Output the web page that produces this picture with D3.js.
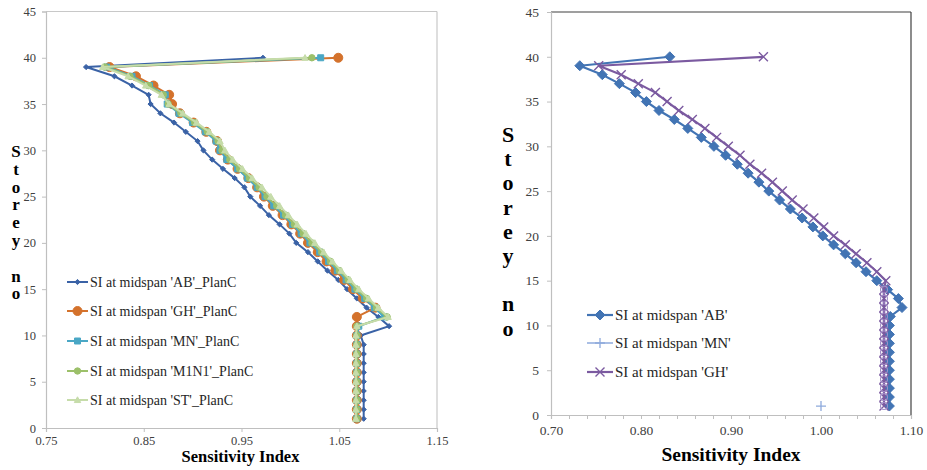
<!DOCTYPE html>
<html><head><meta charset="utf-8">
<script src="https://cdn.jsdelivr.net/npm/d3@7"></script>
<style>body{margin:0;background:#fff}svg{display:block}svg text{font-family:"Liberation Serif","DejaVu Serif","Times New Roman",serif}</style>
</head><body>
<svg id="c" width="927" height="470"></svg>
<script>
const storeys = d3.range(1, 41);
// values listed from storey 1 to storey 40
const leftAB = [1.075,1.075,1.075,1.075,1.075,1.075,1.075,1.075,1.075,1.072,1.101,1.090,1.078,1.068,1.058,1.049,1.038,1.028,1.018,1.006,0.999,0.989,0.978,0.969,0.959,0.953,0.943,0.931,0.920,0.911,0.905,0.893,0.881,0.867,0.857,0.855,0.838,0.820,0.791,0.972];
const leftGH = [1.068,1.068,1.068,1.068,1.068,1.068,1.068,1.068,1.068,1.068,1.068,1.068,1.087,1.074,1.064,1.055,1.046,1.037,1.028,1.018,1.010,1.001,0.992,0.982,0.973,0.966,0.957,0.946,0.936,0.928,0.925,0.914,0.901,0.887,0.879,0.876,0.860,0.842,0.815,1.049];
const leftMN = [1.068,1.068,1.068,1.068,1.068,1.068,1.068,1.068,1.068,1.068,1.070,1.096,1.086,1.076,1.066,1.057,1.048,1.039,1.030,1.020,1.011,1.002,0.993,0.983,0.974,0.966,0.956,0.946,0.935,0.928,0.924,0.913,0.900,0.886,0.874,0.872,0.856,0.838,0.812,1.031];
const leftM1N1 = [1.068,1.068,1.068,1.068,1.068,1.068,1.068,1.068,1.068,1.068,1.068,1.099,1.088,1.078,1.068,1.059,1.050,1.041,1.032,1.022,1.013,1.004,0.995,0.986,0.976,0.968,0.958,0.948,0.938,0.930,0.926,0.915,0.902,0.888,0.875,0.870,0.855,0.836,0.810,1.022];
const leftST = [1.067,1.067,1.067,1.067,1.067,1.067,1.067,1.067,1.067,1.067,1.068,1.100,1.090,1.080,1.070,1.061,1.052,1.043,1.034,1.025,1.016,1.007,0.998,0.989,0.980,0.971,0.961,0.951,0.941,0.933,0.928,0.917,0.904,0.890,0.876,0.868,0.852,0.834,0.808,1.015];
const leftNames = ["SI at midspan 'AB'_PlanC","SI at midspan 'GH'_PlanC","SI at midspan 'MN'_PlanC","SI at midspan 'M1N1'_PlanC","SI at midspan 'ST'_PlanC"];
const leftXTicks = [0.75,0.85,0.95,1.05,1.15];
const yTicks = [0,5,10,15,20,25,30,35,40,45];

const rightAB = [1.076,1.076,1.076,1.076,1.076,1.076,1.076,1.076,1.076,1.076,1.077,1.090,1.086,1.074,1.062,1.050,1.039,1.027,1.014,1.002,0.991,0.979,0.966,0.954,0.942,0.931,0.919,0.907,0.894,0.881,0.867,0.852,0.837,0.820,0.806,0.794,0.776,0.757,0.732,0.832];
const rightMNStoreys = [1];
const rightMN = [1.000];
const rightGH = [1.070,1.070,1.070,1.070,1.070,1.070,1.070,1.070,1.070,1.070,1.070,1.070,1.070,1.070,1.072,1.062,1.051,1.039,1.027,1.014,1.003,0.992,0.980,0.968,0.957,0.946,0.934,0.921,0.910,0.897,0.884,0.871,0.857,0.842,0.829,0.816,0.797,0.778,0.753,0.936];
const rightCircleStoreys = [1,2,3,4,5,6,7,8,9,10,11,12,13,14];
const rightCircle = [1.070,1.070,1.070,1.070,1.070,1.070,1.070,1.070,1.070,1.070,1.070,1.070,1.070,1.070];
const rightNames = ["SI at midspan 'AB'","SI at midspan 'MN'","SI at midspan 'GH'"];
const rightXTicks = [0.70,0.80,0.90,1.00,1.10];

const svg = d3.select("#c");
const serif = '"Liberation Serif","DejaVu Serif","Times New Roman",serif';

function symPath(type, size){
  const s = size;
  if(type==="diamond") return `M0,${-s}L${s},0L0,${s}L${-s},0Z`;
  if(type==="circle") return d3.symbol(d3.symbolCircle, Math.PI*s*s)();
  if(type==="square") return `M${-s},${-s}H${s}V${s}H${-s}Z`;
  if(type==="triangle") return `M0,${-s}L${s},${s*0.8}L${-s},${s*0.8}Z`;
  if(type==="plus") return `M${-s},0H${s}M0,${-s}V${s}`;
  if(type==="x") return `M${-s},${-s}L${s},${s}M${-s},${s}L${s},${-s}`;
  return "";
}

function drawChart(cfg){
  const g = svg.append("g");
  const x = d3.scaleLinear().domain(cfg.xDomain).range([cfg.x0, cfg.x1]);
  const y = d3.scaleLinear().domain([0,45]).range([cfg.y0, cfg.y1]);
  g.append("line").attr("x1",cfg.x0).attr("x2",cfg.x1).attr("y1",cfg.y1).attr("y2",cfg.y1).attr("stroke",cfg.borderColor).attr("stroke-width",1.2);
  g.append("line").attr("x1",cfg.x1).attr("x2",cfg.x1).attr("y1",cfg.y1).attr("y2",cfg.y0).attr("stroke",cfg.borderColor).attr("stroke-width",1.2);
  const xa = g.append("g").attr("transform",`translate(0,${cfg.y0})`)
    .call(d3.axisBottom(x).tickValues(cfg.xTicks).tickFormat(d3.format(".2f")).tickSize(4).tickPadding(cfg.xPad));
  if(cfg.minor){
    g.append("g").attr("transform",`translate(0,${cfg.y0})`)
      .call(d3.axisBottom(x).tickValues(cfg.minor).tickFormat("").tickSize(4))
      .call(a=>a.select(".domain").remove())
      .selectAll("line").attr("stroke","#bfbfbf");
  }
  const ya = g.append("g").attr("transform",`translate(${cfg.x0},0)`)
    .call(d3.axisLeft(y).tickValues(yTicks).tickSize(4).tickPadding(cfg.yPad));
  [xa,ya].forEach(a=>{
    a.attr("font-family",null);
    a.select(".domain").attr("stroke","#bfbfbf").attr("stroke-width",1.2);
    a.selectAll(".tick line").attr("stroke","#bfbfbf");
    a.selectAll("text").style("font-family",serif).attr("font-size",cfg.tickFont).attr("fill","#404040");
  });
  cfg.series.forEach(s=>{
    const pts = s.values.map((v,i)=>({x:v, y:(s.storeys||storeys)[i]}));
    if(s.line!==false){
      g.append("path").datum(pts)
        .attr("fill","none").attr("stroke",s.color).attr("stroke-width",s.lw)
        .attr("d", d3.line().x(d=>x(d.x)).y(d=>y(d.y)));
    }
    g.append("g").selectAll("path").data(pts).join("path")
      .attr("transform",d=>`translate(${x(d.x)},${y(d.y)})`)
      .attr("d",symPath(s.marker,s.ms))
      .attr("fill",s.fill===false?"none":s.color)
      .attr("stroke",s.color).attr("stroke-width",s.mlw||1);
  });
  cfg.series.filter(s=>s.name).forEach((s,i)=>{
    const ly = cfg.legY[i];
    g.append("line").attr("x1",cfg.legX).attr("x2",cfg.legX+cfg.legW).attr("y1",ly).attr("y2",ly)
      .attr("stroke",s.color).attr("stroke-width",s.lw);
    g.append("path").attr("transform",`translate(${cfg.legX+cfg.legW/2},${ly})`)
      .attr("d",symPath(s.marker,s.ms)).attr("fill",s.color).attr("stroke",s.color).attr("stroke-width",s.mlw||1);
    g.append("text").attr("x",cfg.legX+cfg.legW+2).attr("y",ly).attr("dy","0.35em")
      .style("font-family",serif).attr("font-size",cfg.legFont).attr("fill","#262626").text(s.name);
  });
  g.append("text").attr("x",(cfg.x0+cfg.x1)/2 + cfg.titleDx).attr("y",cfg.titleY)
    .attr("text-anchor","middle").style("font-family",serif).attr("font-weight","bold")
    .attr("font-size",cfg.titleFont).attr("fill","#000").text("Sensitivity Index");
  const yt = g.append("text").style("font-family",serif).attr("font-weight","bold")
    .attr("font-size",cfg.yTitleFont).attr("fill","#000").attr("text-anchor","middle");
  "Storey no".split("").forEach((ch,i)=>{
    yt.append("tspan").attr("x",cfg.yTitleX).attr("y",cfg.yTitleY + i*cfg.yTitleStep).text(ch===" "?"\u00a0":ch);
  });
}

drawChart({
  xDomain:[0.75,1.15], x0:46, x1:437, y0:428, y1:11.5,
  xTicks:leftXTicks, minor:null, xPad:4, yPad:6, tickFont:12.5,
  borderColor:"#c8c8c8",
  series:[
    {name:leftNames[0], values:leftAB, color:"#3a62a6", lw:2, marker:"diamond", ms:2.6},
    {name:leftNames[1], values:leftGH, color:"#d4722c", lw:2, marker:"circle", ms:4.5},
    {name:leftNames[2], values:leftMN, color:"#4aa7c5", lw:2, marker:"square", ms:3},
    {name:leftNames[3], values:leftM1N1, color:"#9cc06a", lw:2, marker:"circle", ms:3.2},
    {name:leftNames[4], values:leftST, color:"#c6dcaa", lw:2, marker:"triangle", ms:3.2}
  ],
  legX:67, legW:21, legY:[282,311,341,371,400], legFont:14,
  titleY:462, titleFont:16.5, titleDx:-1,
  yTitleX:16, yTitleY:157, yTitleStep:17.8, yTitleFont:17
});

drawChart({
  xDomain:[0.70,1.10], x0:551, x1:911, y0:415, y1:12,
  xTicks:rightXTicks, minor:d3.range(0.72,1.10,0.02).filter(v=>Math.abs(v*10-Math.round(v*10))>0.05),
  xPad:6, yPad:8, tickFont:13.5,
  borderColor:"#404040",
  series:[
    {name:rightNames[0], values:rightAB, color:"#4274b4", lw:2.2, marker:"diamond", ms:5},
    {name:rightNames[1], values:rightMN, storeys:rightMNStoreys, color:"#8eaadc", lw:1.5, marker:"plus", ms:5, mlw:1.3},
    {name:rightNames[2], values:rightGH, color:"#7b5aa0", lw:2.2, marker:"x", ms:4.5, mlw:1.4},
    {name:null, values:rightCircle, storeys:rightCircleStoreys, color:"#a28cc6", lw:0, line:false, marker:"circle", ms:3.5, fill:false, mlw:1.1}
  ],
  legX:587, legW:26, legY:[315,343,372], legFont:15,
  titleY:461, titleFont:19.5, titleDx:0,
  yTitleX:508, yTitleY:142, yTitleStep:24.2, yTitleFont:22
});
</script>
</body></html>
